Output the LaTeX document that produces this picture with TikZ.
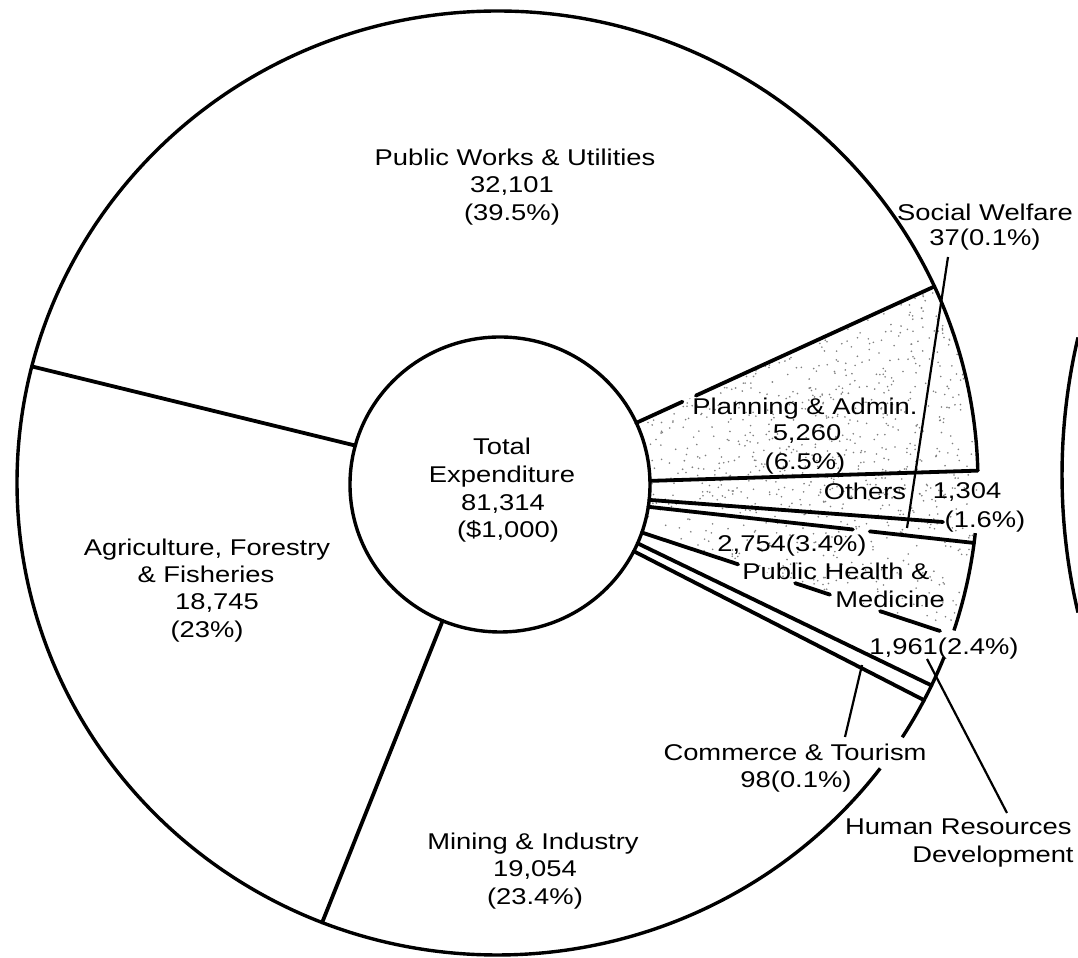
\documentclass[tikz,border=0pt]{standalone}
\usepackage{fontspec}
\setmainfont[FakeStretch=1.2]{Liberation Sans}
\usetikzlibrary{calc}
\tikzset{
  slice/.style={line width=1.9pt, line cap=round},
  rim/.style={line width=1.7pt},
  leader/.style={line width=1.1pt},
  lbl/.style={inner sep=0pt, anchor=base, font=\fontsize{11.4}{13.7}\selectfont},
  stip/.style={fill=black!50},
  outerarc/.style={x radius=240.25pt, y radius=236pt},
  innerarc/.style={x radius=75pt, y radius=73.75pt},
}
\begin{document}
\begin{tikzpicture}[x=0.5pt,y=0.5pt]
\useasboundingbox (0,0) rectangle (1078,958);
\fill[white] (0,0) rectangle (1078,958);
\coordinate (O) at (497.5,475);
\coordinate (IC) at (500,473.5);
% inner and outer ends of the slice boundaries
\path (IC) ++(164.7:150 and 147.5) coordinate (Ai);
\path (O)  ++(165.7:480.5 and 472) coordinate (Ao);
\path (IC) ++(247.5:150 and 147.5) coordinate (Bi);
\path (O)  ++(248.6:480.5 and 472) coordinate (Bo);
\path (IC) ++(24.7:150 and 147.5) coordinate (Ci);
\path (O)  ++(24.6:480.5 and 472) coordinate (Co);
\path (IC) ++(1.4:150 and 147.5) coordinate (Di);
\path (O)  ++(1.5:480.5 and 472) coordinate (Do);
\path (IC) ++(-6.0:150 and 147.5) coordinate (Ei);
\coordinate (Ee) at (943,436);
\path (IC) ++(-8.7:150 and 147.5) coordinate (Fi);
\path (O)  ++(-7.3:480.5 and 472) coordinate (Fo);
\path (IC) ++(-19.0:150 and 147.5) coordinate (Gi);
\coordinate (Ge) at (940,327);
\path (IC) ++(-23.5:150 and 147.5) coordinate (Hi);
\path (O)  ++(-25.4:480.5 and 472) coordinate (Ho);
\path (IC) ++(-26.9:150 and 147.5) coordinate (Ii);
\path (O)  ++(-27.4:480.5 and 472) coordinate (Io);

% stippled slices
\pgfmathsetseed{7}
\begin{scope}
  \clip (Ci) -- (Co) arc[start angle=24.6, end angle=1.5, outerarc] -- (Di) arc[start angle=1.4, end angle=24.7, innerarc] -- cycle;
  \foreach \k in {1,...,800}{
    \pgfmathsetmacro{\px}{635+345*rnd}\pgfmathsetmacro{\py}{476+195*rnd}
    \fill[stip] (\px,\py) circle[radius=0.45pt];}
\end{scope}
\begin{scope}
  \clip (Di) -- (Do) arc[start angle=1.5, end angle=-7.3, outerarc] -- (Fi) arc[start angle=-8.7, end angle=1.4, innerarc] -- cycle;
  \foreach \k in {1,...,350}{
    \pgfmathsetmacro{\px}{645+335*rnd}\pgfmathsetmacro{\py}{413+75*rnd}
    \fill[stip] (\px,\py) circle[radius=0.45pt];}
\end{scope}
\begin{scope}
  \clip (Fi) -- (Fo) arc[start angle=-7.3, end angle=-18.5, outerarc] -- (Gi) arc[start angle=-19, end angle=-8.7, innerarc] -- cycle;
  \foreach \k in {1,...,400}{
    \pgfmathsetmacro{\px}{640+335*rnd}\pgfmathsetmacro{\py}{318+135*rnd}
    \fill[stip] (\px,\py) circle[radius=0.45pt];}
\end{scope}

% outer rim (broken for labels)
\draw[rim] (Do) arc[start angle=1.5, end angle=322.8, outerarc];
\path (O) ++(-18.2:480.5 and 472) coordinate (r2a);
\draw[rim] (r2a) arc[start angle=-18.2, end angle=-6.1, outerarc];
\path (O) ++(-32.6:480.5 and 472) coordinate (r3a);
\draw[rim] (r3a) arc[start angle=-32.6, end angle=-21.7, outerarc];
% inner circle
\draw[rim] (IC) ellipse[innerarc];
% neighbouring chart at the right edge
\draw[rim] (1662,483) ++(166.74:600) arc[start angle=166.74, end angle=193.26, radius=300pt];

% slice boundaries
\draw[slice] (Ai) -- (Ao);
\draw[slice] (Bi) -- (Bo);
\draw[slice] (Ci) -- ($(Ci)!0.155!(Co)$);
\draw[slice] ($(Ci)!0.2!(Co)$) -- (Co);
\draw[slice] (Di) -- (Do);
\draw[slice] (Ei) -- (Ee);
\draw[slice] (Fi) -- ($(Fi)!0.628!(Fo)$);
\draw[slice] ($(Fi)!0.68!(Fo)$) -- (Fo);
\draw[slice] (Gi) -- ($(Gi)!0.323!(Ge)$);
\draw[slice] ($(Gi)!0.514!(Ge)$) -- ($(Gi)!0.631!(Ge)$);
\draw[slice] ($(Gi)!0.799!(Ge)$) -- (Ge);
\draw[slice] (Hi) -- (Ho);
\draw[slice] (Ii) -- (Io);

% labels
\node[lbl] (pw1) at (515,792) {Public Works \& Utilities};
\node[lbl] (pw2) at (512,765) {32,101};
\node[lbl] (pw3) at (512,737) {(39.5\%)};
\node[lbl] (sw1) at (985,737) {Social Welfare};
\node[lbl] (sw2) at (985,712) {37(0.1\%)};
\node[lbl] (pa1) at (805,543) {Planning \& Admin.};
\node[lbl] (pa2) at (807,517) {5,260};
\node[lbl] (pa3) at (805,488) {(6.5\%)};
\node[lbl] (te1) at (502,503) {Total};
\node[lbl] (te2) at (502,475) {Expenditure};
\node[lbl] (te3) at (503,447) {81,314};
\node[lbl] (te4) at (508,420) {(\$1,000)};
\node[lbl] (ot1) at (865,458) {Others};
\node[lbl] (ot2) at (967,459) {1,304};
\node[lbl] (ot3) at (985,430) {(1.6\%)};
\node[lbl] (ph0) at (792,406) {2,754(3.4\%)};
\node[lbl] (ph1) at (836,378) {Public Health \&};
\node[lbl] (ph2) at (890,350) {Medicine};
\node[lbl] (hr0) at (944,303) {1,961(2.4\%)};
\node[lbl] (ag1) at (207,402) {Agriculture, Forestry};
\node[lbl] (ag2) at (206,375) {\& Fisheries};
\node[lbl] (ag3) at (217,348) {18,745};
\node[lbl] (ag4) at (207,320) {(23\%)};
\node[lbl] (ct1) at (795,197) {Commerce \& Tourism};
\node[lbl] (ct2) at (796,170) {98(0.1\%)};
\node[lbl, anchor=base east] (hr1) at (1072,123) {Human Resources};
\node[lbl, anchor=base east] (hr2) at (1074,95) {Development};
\node[lbl] (mi1) at (533,108) {Mining \& Industry};
\node[lbl] (mi2) at (535,81) {19,054};
\node[lbl] (mi3) at (535,53) {(23.4\%)};

% leader lines
\coordinate (swA) at (948,701); \coordinate (swB) at (907,430);
\draw[leader] (swA) -- (swB);
\coordinate (ctA) at (845,221); \coordinate (ctB) at (862,293);
\draw[leader] (ctA) -- (ctB);
\coordinate (hrA) at (927,299); \coordinate (hrB) at (1007,145);
\draw[leader] (hrA) -- (hrB);
\end{tikzpicture}
\end{document}
